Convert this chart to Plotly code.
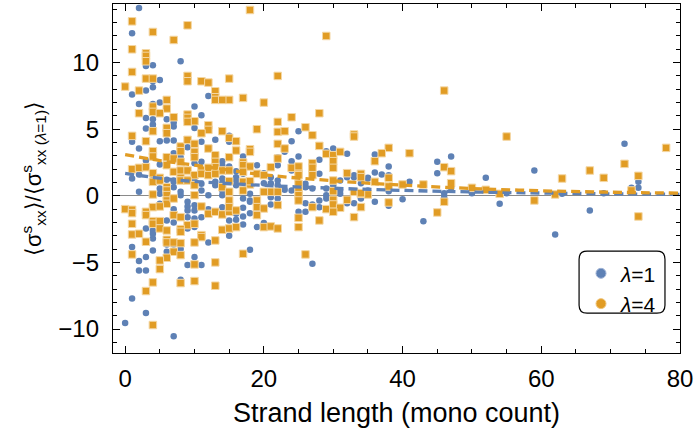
import plotly.graph_objects as go

# ---------------- data ----------------
blue_x = [2, 1, 4, 3, 8, 4, 5, 1, 4, 3, 12, 5, 2, 4, 10, 3, 4, 6, 11, 7, 4, 10,
          9, 4, 3, 7, 6, 1, 1, 3, 5, 6, 7, 11, 13, 15, 15, 9, 7, 2, 3, 4, 6, 8, 10, 11, 14, 15, 14, 5,
          1, 4, 6, 7, 8, 10, 11, 13, 14, 14, 15, 2,
          2, 5, 5, 7, 7, 8, 8, 10, 10, 11, 12, 13, 14, 14, 15, 7, 5, 9, 9, 7, 9, 10, 10, 12, 14, 15,
          9, 10, 6, 7, 8, 11, 12, 3, 4, 4, 8, 9, 10, 15, 15, 12, 4, 1, 4, 3, 2, 9, 2, 3,
          6, 7, 6, 8, 8, 10, 11, 1, 3, 0, 7,
          25, 24, 23, 30, 29, 32, 17, 25, 22, 28, 19, 22, 24, 16, 20, 24, 28, 30, 31, 33, 35,
          16, 16, 17, 20, 22, 22, 25, 27, 29, 30, 34,
          24, 16, 17, 21, 21, 26, 26, 32, 33, 17, 18, 20, 23, 24, 29, 31, 31, 33,
          17, 18, 18, 21, 22, 25, 28, 29, 34, 26, 27, 22, 17, 18, 19, 25, 26, 28, 17, 16, 20, 17,
          15, 19, 18, 27, 30, 33, 32, 21, 16, 35, 34,
          72, 47, 36, 45, 38, 59, 36, 37, 45, 35, 38, 52, 74, 74, 41, 73, 38, 47, 46, 46,
          34, 36, 40, 38, 54, 67, 43, 62, 50, 55, 63, 69]
blue_y = [14.1, 12.2, 9.8, 9.75, 10.1, 8.6, 8.7, 7.6, 8.15, 7.9, 7.5, 7.0, 6.9, 6.9, 6.7, 5.85, 5.75, 5.75, 6.05, 5.5, 5.1, 5.1,
          6.0, 5.35, 5.05, 5.2, 4.6, 4.5, 4.05, 4.1, 4.1, 4.15, 4.15, 4.05, 4.2, 4.05, 4.5, 3.65, 3.2, 3.55, 2.65, 2.9, 2.6, 2.9, 2.45, 2.55, 2.6, 2.2, 2.3, 2.35,
          1.3, 1.55, 1.2, 1.15, 1.3, 1.1, 0.9, 1.05, 1.3, 0.95, 1.15, 1.6,
          0.3, 0.15, 0.55, 0.65, 1.05, 0.3, 0.05, 0.9, 1.05, 0.4, 0.05, 0.8, 0.4, 0.05, 0.3, -0.2, -0.6, -0.45, -0.8, -1.0, -1.1, -0.7, -1.1, -1.0, -0.85, -1.1,
          -1.6, -1.7, -1.85, -2.0, -1.6, -1.6, -1.35, -2.45, -2.6, -2.85, -2.7, -2.45, -2.35, -1.85, -2.45, -3.5, -3.2, -3.85, -4.1, -4.6, -4.9, -5.2, -5.6, -5.6,
          -3.65, -3.65, -4.2, -4.0, -6.3, -4.6, -5.2, -7.7, -8.8, -9.55, -10.55,
          4.85, 4.1, 3.3, 3.55, 3.35, 3.15, 2.95, 2.95, 2.9, 2.7, 2.3, 2.3, 2.6, 1.85, 1.7, 1.9, 1.65, 2.15, 1.15, 1.55, 1.3,
          1.15, 0.8, 1.05, 0.95, 1.15, 0.8, 0.9, 0.55, 0.55, 0.8, 0.95,
          2.2, 1.4, 1.65, 1.4, 0.95, 0.9, 0.65, 1.4, 1.4, 0.4, 0.15, 0.3, 0.45, 0.4, 0.05, 0.4, 0.15, 0.3,
          -0.2, -0.35, -0.45, -0.1, -0.2, -0.1, -0.35, -0.2, -0.2, -0.55, -0.65, -0.6, -0.9, -1.3, -1.3, -1.2, -1.2, -0.85, -1.55, -1.8, -2.05, -2.15,
          -3.0, -2.35, -4.05, -5.1, -1.2, -0.55, -0.55, -0.65, -1.35, 0.4, 0.05,
          3.9, 2.95, 3.1, 2.55, 2.2, 1.9, 1.75, 1.6, 1.7, 1.35, 1.55, 1.35, 1.05, 0.6, 1.05, 0.6, 0.35, 0.6, 0.2, -0.1,
          -0.1, -0.45, -0.25, -0.75, -0.6, -1.1, -1.9, -2.9, 0.2, 0.2, 0.15, 0.2]

orange_x = [1, 4, 9, 7, 1, 3, 3, 3, 1, 9, 9, 3, 4, 11, 12, 15, 0, 2, 13, 13, 13, 15, 14, 6, 4, 4, 6, 2, 5, 7, 9, 9, 10, 12, 6,
            9, 12, 11, 14, 1, 4, 6, 3, 4, 4, 8, 8, 9, 10, 10, 10, 12, 13, 13, 13, 15, 6, 7, 8, 1, 2, 3, 4, 6, 7, 8, 9, 11, 12, 14, 15,
            5, 8, 8, 9, 10, 11, 12, 13,
            4, 5, 6, 9, 10, 14, 4, 6, 6, 6, 6, 7, 10, 15, 4, 5, 0, 1, 1, 3, 3, 7, 8, 11, 12, 13, 14, 15, 15,
            4, 4, 5, 1, 9, 10, 14, 15, 5, 6, 8, 8, 1, 2, 6, 6, 7, 8, 11, 11, 10, 13, 3, 1, 7, 8, 6, 5, 10, 13, 5,
            4, 3, 8, 10, 13, 4,
            18, 29, 22, 17, 20, 28, 22, 24, 19, 22, 23, 26, 27, 33, 33, 15, 16, 22, 23, 28, 16, 18, 18, 29, 30, 31, 22, 30,
            17, 17, 18, 21, 24, 25, 27, 27, 30, 25, 25, 27, 32, 34, 34, 30, 17, 18,
            17, 19, 20, 15, 18, 21, 20, 17, 25, 25, 25, 25, 22, 30, 30, 33, 34, 15, 15, 19, 22, 19, 16, 20, 27, 29, 30, 31, 34, 30,
            19, 25, 28, 16, 20, 21, 22, 25,
            17, 26, 33, 32,
            46, 55, 78, 38, 37, 41, 36, 72, 46, 47, 67, 38, 63, 69, 74, 36, 40, 43, 38, 47, 50, 52, 73, 35, 34, 54, 62, 59, 46, 38, 45, 74]
orange_y = [13.1, 12.3, 12.8, 11.7, 11.0, 10.7, 10.5, 10.1, 9.3, 9.0, 8.6, 8.8, 8.8, 8.6, 8.5, 8.8, 8.2, 7.9, 7.85, 7.4, 7.2, 7.2, 7.2, 7.2, 6.7, 6.3, 6.55, 6.2, 6.2, 5.9, 6.1, 5.85, 5.6, 5.3, 5.1,
            5.55, 4.95, 4.7, 4.85, 4.5, 4.85, 4.7, 4.1, 3.35, 2.95, 3.7, 3.35, 4.2, 3.9, 3.3, 2.9, 3.55, 3.05, 2.55, 2.15, 2.9, 2.9, 2.8, 2.55, 2.0, 2.1, 2.15, 1.7, 2.3, 1.8, 1.9, 1.9, 1.95, 2.1, 1.9, 1.9,
            1.35, 1.35, 1.15, 1.2, 1.55, 1.65, 1.55, 1.65,
            1.05, 1.15, 0.65, 1.15, 0.8, 0.65, 0.1, 0.4, 0.05, -0.35, -0.6, -0.2, 0.05, 0.3, -0.85, -0.8, -1.0, -1.05, -1.3, -1.2, -1.45, -1.45, -1.6, -0.8, -1.35, -1.2, -1.4, -1.05, -1.2,
            -1.9, -2.1, -1.9, -2.1, -2.2, -2.1, -2.55, -2.45, -2.45, -2.6, -2.5, -2.7, -2.9, -2.85, -3.3, -3.5, -3.5, -3.55, -2.95, -3.1, -3.5, -3.35, -3.45, -4.4, -4.2, -4.45, -4.65, -4.85, -5.15, -5.0, -5.5,
            -6.5, -7.15, -6.55, -6.4, -6.75, -9.7,
            13.95, 12.0, 9.0, 7.35, 7.0, 6.2, 5.55, 5.9, 5.0, 4.8, 4.85, 5.15, 4.55, 4.6, 4.45, 4.35, 4.1, 3.9, 3.55, 3.75, 3.4, 3.5, 3.3, 3.15, 3.05, 3.3, 2.8, 2.6,
            2.5, 2.3, 2.2, 2.15, 2.1, 2.2, 2.45, 2.1, 2.1, 1.65, 1.55, 1.55, 1.7, 1.65, 1.4, 1.15, 1.05, 0.85,
            1.8, 1.65, 1.55, 1.1, 1.1, 0.3, 0.3, 0.4, 0.9, 0.4, 0.05, -0.35, 0.3, 0.35, -0.3, 0.3, 0.15, -0.35, -0.85, -0.35, -0.7, -0.85, -1.1, -0.95, -0.85, -1.0, -0.65, -0.9, -0.85, -1.2,
            -1.45, -1.65, -1.85, -2.35, -2.35, -2.3, -2.45, -2.35,
            -4.35, -4.4, -1.6, -0.3,
            7.9, 4.45, 3.6, 3.6, 3.2, 3.2, 2.6, 2.4, 2.15, 1.85, 1.9, 1.35, 1.3, 1.35, 1.5, 1.05, 0.85, 0.85, 0.7, 0.95, 0.6, 0.45, 0.4, 0.1, 0.2, 0.15, 0.1, -0.35, -0.45, -0.5, -1.25, -1.55]

fit_x = [0, 5, 10, 20, 30, 40, 50, 60, 70, 80]
fit_blue = [1.68, 1.32, 1.08, 0.78, 0.57, 0.41, 0.29, 0.21, 0.15, 0.11]
fit_orange = [3.1, 2.65, 2.3, 1.58, 1.13, 0.8, 0.55, 0.38, 0.27, 0.2]

series_names = ["<i>λ</i>=1", "<i>λ</i>=4"]
x_ticks = [0, 20, 40, 60, 80]
y_ticks = [-10, -5, 0, 5, 10]

BLUE = "#5E81B5"
ORANGE = "#E19C24"
FONT = "Liberation Sans, Arial, sans-serif"

fig = go.Figure()
fig.add_trace(go.Scatter(x=blue_x, y=blue_y, mode="markers", showlegend=False,
                         marker=dict(symbol="circle", size=6.5, color=BLUE, line=dict(width=0))))
fig.add_trace(go.Scatter(x=orange_x, y=orange_y, mode="markers", showlegend=False,
                         marker=dict(symbol="square", size=7.5, color=ORANGE,
                                     line=dict(width=1, color="#F4D7A4"))))
fig.add_trace(go.Scatter(x=fit_x, y=fit_blue, mode="lines", showlegend=False, line_shape="spline",
                         line=dict(color=BLUE, width=3.3, dash="9px,5px")))
fig.add_trace(go.Scatter(x=fit_x, y=fit_orange, mode="lines", showlegend=False, line_shape="spline",
                         line=dict(color=ORANGE, width=3.3, dash="9px,5px")))
# legend entries
fig.add_trace(go.Scatter(x=[None], y=[None], mode="markers", name=series_names[0],
                         marker=dict(symbol="circle", size=10, color=BLUE,
                                     line=dict(width=1, color="#9FB3D6"))))
fig.add_trace(go.Scatter(x=[None], y=[None], mode="markers", name=series_names[1],
                         marker=dict(symbol="circle", size=10, color=ORANGE,
                                     line=dict(width=1, color="#EFC57C"))))

# rounded legend frame (paper coords)
x0, x1, y0, y1 = 0.822, 0.9735, 0.114, 0.2917
rx, ry = 0.0141, 0.0229
path = (f"M {x0+rx},{y1} L {x1-rx},{y1} Q {x1},{y1} {x1},{y1-ry} L {x1},{y0+ry} "
        f"Q {x1},{y0} {x1-rx},{y0} L {x0+rx},{y0} Q {x0},{y0} {x0},{y0+ry} "
        f"L {x0},{y1-ry} Q {x0},{y1} {x0+rx},{y1} Z")
fig.add_shape(type="path", path=path, xref="paper", yref="paper",
              line=dict(color="black", width=1.2), fillcolor="white", layer="above")

axis_common = dict(showgrid=False, showline=True, linecolor="black", linewidth=1.3,
                   mirror="allticks", ticks="inside", tickcolor="black", tickwidth=1,
                   automargin=False,
                   tickfont=dict(family=FONT, size=24, color="black"))

fig.update_layout(
    width=697, height=445,
    margin=dict(l=113, r=17, t=4, b=92),
    paper_bgcolor="white", plot_bgcolor="white",
    font=dict(family=FONT, color="black"),
    xaxis=dict(range=[-1.75, 80], tickvals=x_ticks, ticklen=7,
               minor=dict(dtick=5, tick0=0, ticks="inside", ticklen=4, tickcolor="black"),
               zeroline=False, ticklabelstandoff=4,
               title=dict(text="Strand length (mono count)", font=dict(family=FONT, size=27), standoff=12),
               **axis_common),
    yaxis=dict(range=[-11.8, 14.4], tickvals=y_ticks, ticklen=7,
               minor=dict(dtick=1, tick0=0, ticks="inside", ticklen=4, tickcolor="black"),
               zeroline=True, zerolinecolor="#8a8a8a", zerolinewidth=1, ticklabelstandoff=8,
               title=dict(text="⟨σ<sup>s</sup><sub>xx</sub>⟩/⟨σ<sup>s</sup><sub>xx (<i>λ</i>=1)</sub>⟩",
                          font=dict(family=FONT, size=22), standoff=10),
               **axis_common),
    legend=dict(x=0.8254, y=0.286, xanchor="left", yanchor="top",
                bgcolor="rgba(0,0,0,0)", borderwidth=0,
                font=dict(family=FONT, size=21, color="black"),
                itemwidth=30, tracegroupgap=0),
)

fig.write_html("out.html", config={"displayModeBar": False},
               post_script="document.body.style.margin='0';")
